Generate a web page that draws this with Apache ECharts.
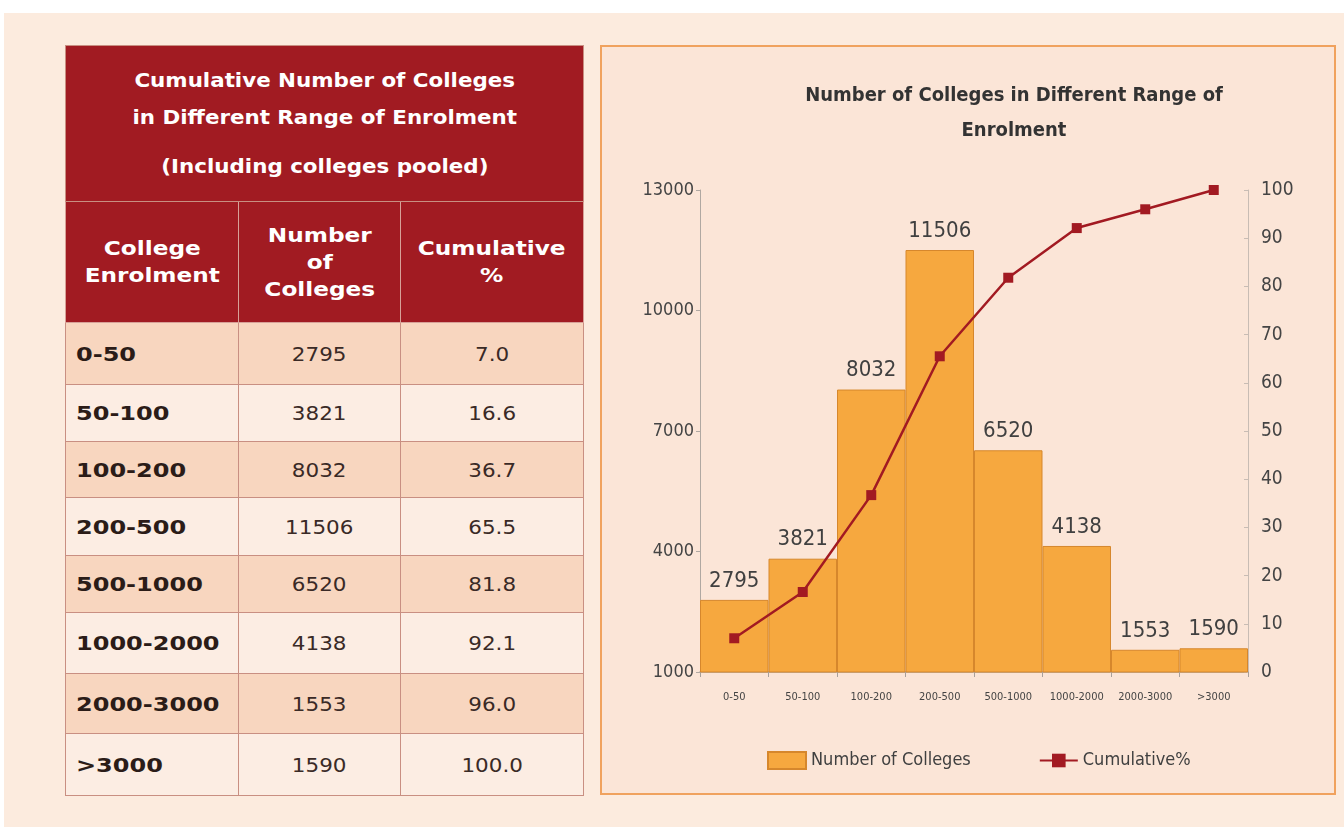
<!DOCTYPE html>
<html>
<head>
<meta charset="utf-8">
<script src="https://cdn.jsdelivr.net/npm/echarts@6/dist/echarts.min.js"></script>
<style>
  html, body { margin: 0; padding: 0; background: #ffffff; }
  #page { position: absolute; left: 4px; top: 13px; width: 1340px; height: 814px; background: #fcebde; }
  #tbl { position: absolute; left: 65px; top: 45px; border-collapse: collapse; font-family: "DejaVu Sans", Verdana, sans-serif; table-layout: fixed; }
  #tbl td, #tbl th { border: 1.5px solid #c98f82; padding: 0; }
  #tbl .title { background: #a11b22; color: #fff; font-weight: bold; font-size: 20px; text-align: center; height: 155px; line-height: 37px; }
  #tbl .head th { background: #a11b22; color: #fff; font-weight: bold; font-size: 20px; line-height: 27px; height: 120px; border-color: #d7a198; }
  #tbl td { font-size: 19px; color: #3a2a26; text-align: center; }
  #tbl td.rng { text-align: left; padding-left: 10px; font-weight: bold; font-size: 20px; color: #2b1c18; }
  #tbl tr.dark td { background: #f8d6bf; }
  #tbl tr.light td { background: #fcede3; }
  .wide { display: inline-block; transform-origin: 50% 50%; }
  .wide-l { display: inline-block; transform-origin: 0 50%; }
  #panel { position: absolute; left: 600px; top: 45px; width: 732px; height: 746px; border: 2px solid #f0a25e; background: #fbe5d7; }
  #chart { width: 732px; height: 746px; }
</style>
</head>
<body>
<div id="page"></div>
<table id="tbl">
  <colgroup><col style="width:173px"><col style="width:162px"><col style="width:183px"></colgroup>
  <tbody id="tbody"></tbody>
</table>
<div id="panel"><div id="chart"></div></div>
<script>
// Enrolment ranges, number of colleges in each and the cumulative share
const enrolmentRanges = ['0-50', '50-100', '100-200', '200-500', '500-1000', '1000-2000', '2000-3000', '>3000'];
const collegeCounts = [2795, 3821, 8032, 11506, 6520, 4138, 1553, 1590];
const cumulativePct = [7.0, 16.6, 36.7, 65.5, 81.8, 92.1, 96.0, 100.0];
const countTicks = [1000, 4000, 7000, 10000, 13000];
const pctTicks = [0, 10, 20, 30, 40, 50, 60, 70, 80, 90, 100];

// Table on the left; glyphs are widened a little to the broad face of the print
const esc = s => s.replace(/&/g, '&amp;').replace(/</g, '&lt;').replace(/>/g, '&gt;');
const wide = (s, k) => '<span class="wide" style="transform:scaleX(' + k + ')">' + s + '</span>';
const wideL = (s, k) => '<span class="wide-l" style="transform:scaleX(' + k + ')">' + s + '</span>';
const tbody = document.getElementById('tbody');
let html = '<tr><td class="title" colspan="3">' +
  wide('Cumulative Number of Colleges<br>in Different Range of Enrolment', 1.07) + '<br>' +
  '<span class="wide" style="margin-top:12px;transform:scaleX(1.07)">(Including colleges pooled)</span></td></tr>';
html += '<tr class="head"><th>' + wide('College<br>Enrolment', 1.16) + '</th><th>' + wide('Number<br>of<br>Colleges', 1.16) +
  '</th><th>' + wide('Cumulative<br>%', 1.16) + '</th></tr>';
enrolmentRanges.forEach((r, i) => {
  html += '<tr class="' + (i % 2 === 0 ? 'dark' : 'light') + '"><td class="rng">' + wideL(esc(r), 1.2) +
    '</td><td>' + wide(String(collegeCounts[i]), 1.13) + '</td><td>' + wide(cumulativePct[i].toFixed(1), 1.13) + '</td></tr>';
});
tbody.innerHTML = html;
const rows = tbody.querySelectorAll('tr');
const rowHeights = [61, 56, 55, 57, 56, 60, 59, 61];
for (let i = 0; i < 8; i++) rows[i + 2].querySelectorAll('td').forEach(td => td.style.height = rowHeights[i] + 'px');

// Chart on the right
const narrow = '"Liberation Sans Narrow", "DejaVu Sans Condensed", "Open Sans", sans-serif';
const chart = echarts.init(document.getElementById('chart'), null, { renderer: 'canvas' });
chart.setOption({
  backgroundColor: 'transparent',
  animation: false,
  title: {
    text: 'Number of Colleges in Different Range of\nEnrolment',
    left: 407, top: 26, textAlign: 'center',
    textStyle: { fontFamily: narrow, fontSize: 20, fontWeight: 'bold', color: '#333333', lineHeight: 35 }
  },
  legend: {
    bottom: 18, left: 160, itemGap: 68, itemWidth: 38, itemHeight: 17,
    textStyle: { fontFamily: narrow, fontSize: 18, color: '#404040' },
    data: [
      { name: 'Number of Colleges', icon: 'rect' },
      { name: 'Cumulative%' }
    ]
  },
  grid: { left: 98, right: 86, top: 143, bottom: 121 },
  xAxis: {
    type: 'category',
    data: enrolmentRanges,
    boundaryGap: true,
    axisLine: { lineStyle: { color: '#a8a09a', width: 1.5 } },
    axisTick: { show: true, length: 5, lineStyle: { color: '#a8a09a' } },
    axisLabel: { fontFamily: narrow, fontSize: 11, color: '#444', margin: 20, interval: 0 }
  },
  yAxis: [
    {
      type: 'value', min: 1000, max: 13000,
      axisLine: { show: true, lineStyle: { color: '#b0a8a2' } },
      axisTick: { show: true, length: 4, customValues: countTicks, lineStyle: { color: '#b0a8a2' } },
      axisLabel: { customValues: countTicks, formatter: v => String(v), fontFamily: narrow, fontSize: 18, color: '#444', margin: 6 },
      splitLine: { show: false }
    },
    {
      type: 'value', min: 0, max: 100, interval: 10,
      position: 'right',
      axisLine: { show: true, lineStyle: { color: '#c8bcb4' } },
      axisTick: { show: true, length: 4, inside: true, lineStyle: { color: '#c8bcb4' } },
      axisLabel: { customValues: pctTicks, fontFamily: narrow, fontSize: 19, color: '#444', margin: 13 },
      splitLine: { show: false }
    }
  ],
  series: [
    {
      name: 'Number of Colleges',
      type: 'bar',
      data: collegeCounts,
      barCategoryGap: '0%',
      itemStyle: { color: '#f6a83f', borderColor: '#d6872c', borderWidth: 1 },
      label: { show: true, position: 'top', distance: 8, fontFamily: narrow, fontSize: 22, color: '#404040' },
      z: 2
    },
    {
      name: 'Cumulative%',
      type: 'line',
      yAxisIndex: 1,
      data: cumulativePct,
      symbol: 'rect', symbolSize: 10,
      lineStyle: { color: '#a21a22', width: 2.5 },
      itemStyle: { color: '#a21a22' },
      z: 3
    }
  ]
});
</script>
</body>
</html>
